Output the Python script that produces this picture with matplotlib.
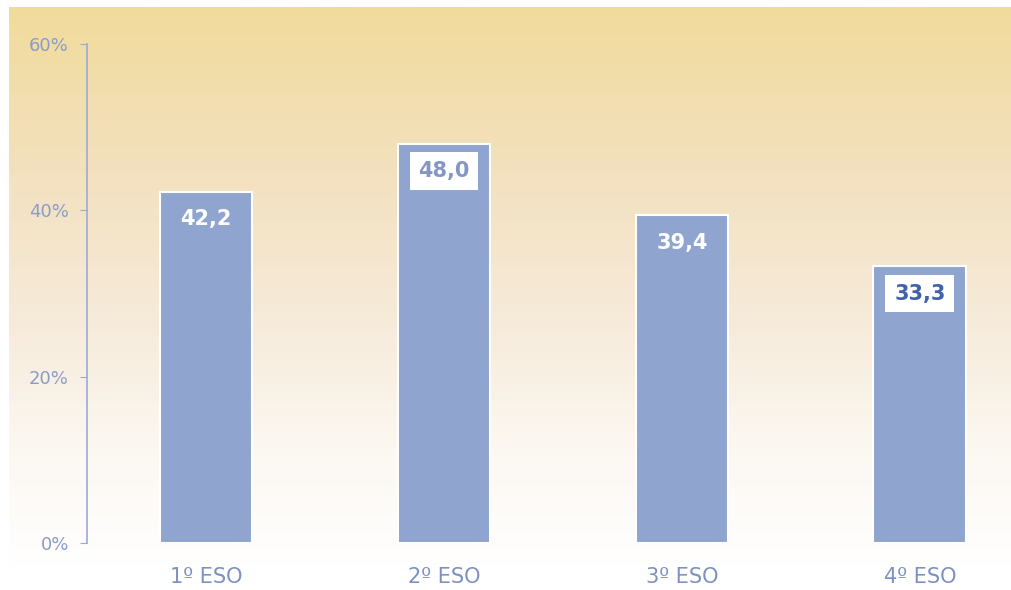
import matplotlib.pyplot as plt
import numpy as np
from matplotlib.colors import LinearSegmentedColormap

# datos del grafico
cursos = ["1º ESO", "2º ESO", "3º ESO", "4º ESO"]
valores = [42.2, 48.0, 39.4, 33.3]
etiquetas = ["42,2", "48,0", "39,4", "33,3"]
con_caja = [False, True, False, True]
color_texto = ["white", "#8497C4", "white", "#3F62A8"]
yticks = [0, 20, 40, 60]
ytick_labels = ["0%", "20%", "40%", "60%"]

W, H = 1012, 590
fig = plt.figure(figsize=(W / 100, H / 100), dpi=100)

# fondo degradado
bg = fig.add_axes([9 / W, (H - 566) / H, (W - 9) / W, (566 - 7) / H])
cmap = LinearSegmentedColormap.from_list(
    "fondo",
    [(0.0, "#F1DB9B"), (0.3, "#F3E1BF"), (0.55, "#F6EAD9"), (0.8, "#FCF8F2"), (1.0, "#FFFFFF")],
)
bg.imshow(np.linspace(0, 1, 256).reshape(-1, 1), aspect="auto", cmap=cmap, extent=[0, 1, 0, 1])
bg.axis("off")

ax = fig.add_axes([87 / W, (H - 543) / H, (W - 87) / W, (543 - 44) / H])
ax.patch.set_alpha(0)

x = np.arange(len(cursos))
ax.bar(x, valores, width=0.39, color="#8FA5CF", edgecolor="white", linewidth=1.5)

for xi, v, lab, caja, col in zip(x, valores, etiquetas, con_caja, color_texto):
    bbox = None
    if caja:
        bbox = dict(boxstyle="square,pad=0.42", facecolor="white", edgecolor="none")
    ax.text(xi, v - 3.3, lab, ha="center", va="center", fontsize=15,
            fontweight="bold", color=col, bbox=bbox)

ax.set_xlim(-0.5, 3.387)
ax.set_ylim(0, 60)
ax.set_yticks(yticks)
ax.set_yticklabels(ytick_labels)
ax.set_xticks(x)
ax.set_xticklabels(cursos, fontsize=15, color="#7D91C0")
ax.tick_params(axis="x", length=0, pad=17)
ax.tick_params(axis="y", length=5, color="#9AABD3", labelsize=13, labelcolor="#8A9CC8", pad=8)

for s in ["top", "right", "bottom"]:
    ax.spines[s].set_visible(False)
ax.spines["left"].set_color("#9AABD3")
ax.spines["left"].set_linewidth(1.2)

fig.savefig("out.png", dpi=100)
